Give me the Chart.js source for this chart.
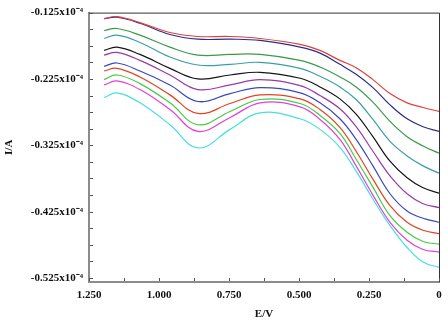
<!DOCTYPE html>
<html>
<head>
<meta charset="utf-8">
<script src="https://cdn.jsdelivr.net/npm/chart.js@4"></script>
<style>
  html, body { margin: 0; padding: 0; background: #fff; }
  #wrap { width: 448px; height: 327px; }
</style>
</head>
<body>
<div id="wrap"><canvas id="cv" width="448" height="327"></canvas></div>
<script>
// potential (E/V) at the traced points
const potentials = [1.196, 1.15, 1.068, 0.961, 0.861, 0.746, 0.639, 0.496, 0.425, 0.354, 0.296, 0.236, 0.175, 0.114, 0.057, 0];

// current (I/A, in units of 10^-4), one array per scan, top to bottom
const scan1  = [-0.134, -0.131, -0.140, -0.155, -0.161, -0.161, -0.164, -0.173, -0.182, -0.197, -0.208, -0.226, -0.247, -0.261, -0.268, -0.274];
const scan2  = [-0.134, -0.132, -0.141, -0.158, -0.165, -0.165, -0.167, -0.177, -0.186, -0.203, -0.218, -0.238, -0.264, -0.285, -0.297, -0.304];
const scan3  = [-0.152, -0.149, -0.159, -0.177, -0.189, -0.188, -0.188, -0.197, -0.207, -0.222, -0.237, -0.260, -0.289, -0.312, -0.326, -0.337];
const scan4  = [-0.164, -0.159, -0.170, -0.192, -0.204, -0.203, -0.200, -0.209, -0.221, -0.237, -0.256, -0.286, -0.319, -0.341, -0.356, -0.367];
const scan5  = [-0.182, -0.177, -0.188, -0.209, -0.225, -0.219, -0.215, -0.224, -0.237, -0.255, -0.278, -0.312, -0.349, -0.374, -0.389, -0.397];
const scan6  = [-0.189, -0.185, -0.197, -0.219, -0.241, -0.234, -0.226, -0.235, -0.250, -0.270, -0.297, -0.334, -0.371, -0.398, -0.413, -0.419];
const scan7  = [-0.206, -0.201, -0.213, -0.234, -0.259, -0.247, -0.238, -0.246, -0.261, -0.285, -0.316, -0.356, -0.398, -0.424, -0.435, -0.441];
const scan8  = [-0.213, -0.209, -0.222, -0.249, -0.277, -0.262, -0.249, -0.255, -0.271, -0.298, -0.334, -0.376, -0.416, -0.441, -0.453, -0.458];
const scan9  = [-0.226, -0.219, -0.232, -0.261, -0.294, -0.274, -0.256, -0.262, -0.280, -0.307, -0.346, -0.388, -0.431, -0.456, -0.470, -0.474];
const scan10 = [-0.234, -0.228, -0.241, -0.271, -0.304, -0.283, -0.261, -0.267, -0.286, -0.316, -0.356, -0.400, -0.441, -0.468, -0.482, -0.486];
const scan11 = [-0.253, -0.246, -0.261, -0.294, -0.329, -0.301, -0.276, -0.285, -0.301, -0.328, -0.364, -0.406, -0.446, -0.479, -0.501, -0.509];

const scans = [scan1, scan2, scan3, scan4, scan5, scan6, scan7, scan8, scan9, scan10, scan11];
const scanColors = ['#e0403a', '#2c2c8c', '#3c9a4c', '#3aa0a4', '#151515', '#9a3aa4',
                    '#3848c0', '#e04424', '#44cc44', '#e040d8', '#48dede'];

// axis ticks
const xLabelTicks = [0, 0.25, 0.5, 0.75, 1.0, 1.25];
const xTickMarks = [0, 0.125, 0.25, 0.375, 0.5, 0.625, 0.75, 0.875, 1.0, 1.125, 1.25];
const yLabelTicks = [-0.525, -0.425, -0.325, -0.225, -0.125];
const yTickMarks = [-0.525, -0.5, -0.475, -0.45, -0.425, -0.4, -0.375, -0.35, -0.325, -0.3, -0.275,
                    -0.25, -0.225, -0.2, -0.175, -0.15, -0.125];

const labelFont = { family: '"Liberation Serif", "Times New Roman", serif', size: 11, weight: 'bold' };

const frameAndTicks = {
  id: 'frameAndTicks',
  afterDraw(chart) {
    const { ctx, chartArea: a, scales: { x, y } } = chart;
    ctx.save();
    ctx.strokeStyle = '#333';
    ctx.lineWidth = 1;
    ctx.beginPath();
    ctx.moveTo(a.left, a.top + 0.5);
    ctx.lineTo(a.right + 0.5, a.top + 0.5);
    ctx.lineTo(a.right + 0.5, a.bottom);
    ctx.stroke();

    ctx.strokeStyle = '#555';
    ctx.beginPath();
    xTickMarks.forEach(v => {
      const px = Math.round(x.getPixelForValue(v)) + 0.5;
      ctx.moveTo(px, a.bottom - 1);
      ctx.lineTo(px, a.bottom - 4);
    });
    yTickMarks.forEach(v => {
      const py = Math.round(y.getPixelForValue(v)) + 0.5;
      ctx.moveTo(a.left + 1, py);
      ctx.lineTo(a.left + 4, py);
    });
    ctx.stroke();
    ctx.restore();
  }
};

new Chart(document.getElementById('cv'), {
  type: 'line',
  data: {
    datasets: scans.map((s, i) => ({
      data: s.map((v, k) => ({ x: potentials[k], y: v })),
      borderColor: scanColors[i],
      borderWidth: 1.2,
      pointRadius: 0,
      fill: false,
      tension: 0.4
    }))
  },
  options: {
    responsive: false,
    animation: false,
    events: [],
    layout: { padding: { top: 10, right: 9, left: 0, bottom: 0 } },
    plugins: { legend: { display: false }, tooltip: { enabled: false } },
    scales: {
      x: {
        type: 'linear',
        reverse: true,
        min: 0,
        max: 1.25,
        afterBuildTicks: s => { s.ticks = xLabelTicks.map(v => ({ value: v })); },
        afterFit: s => { s.height = 45; },
        grid: { display: false, drawTicks: false },
        border: { display: true, color: '#8c8c8c', width: 2 },
        ticks: {
          autoSkip: false,
          maxRotation: 0,
          padding: 7,
          color: '#111',
          font: labelFont,
          callback: v => (v === 0 ? '0' : v.toFixed(3))
        },
        title: { display: true, text: 'E/V', color: '#111', font: labelFont, padding: { top: 0, bottom: 6 } }
      },
      y: {
        type: 'linear',
        min: -0.531,
        max: -0.125,
        afterBuildTicks: s => { s.ticks = yLabelTicks.map(v => ({ value: v })); },
        afterFit: s => { s.width = 89; },
        grid: { display: false, drawTicks: false },
        border: { display: true, color: '#8c8c8c', width: 2 },
        ticks: {
          autoSkip: false,
          padding: 6,
          color: '#111',
          font: labelFont,
          callback: v => v.toFixed(3) + 'x10\u207B\u2074'
        },
        title: { display: true, text: 'I/A', color: '#111', font: labelFont, padding: { top: 3, bottom: 0 } }
      }
    }
  },
  plugins: [frameAndTicks]
});
</script>
</body>
</html>
